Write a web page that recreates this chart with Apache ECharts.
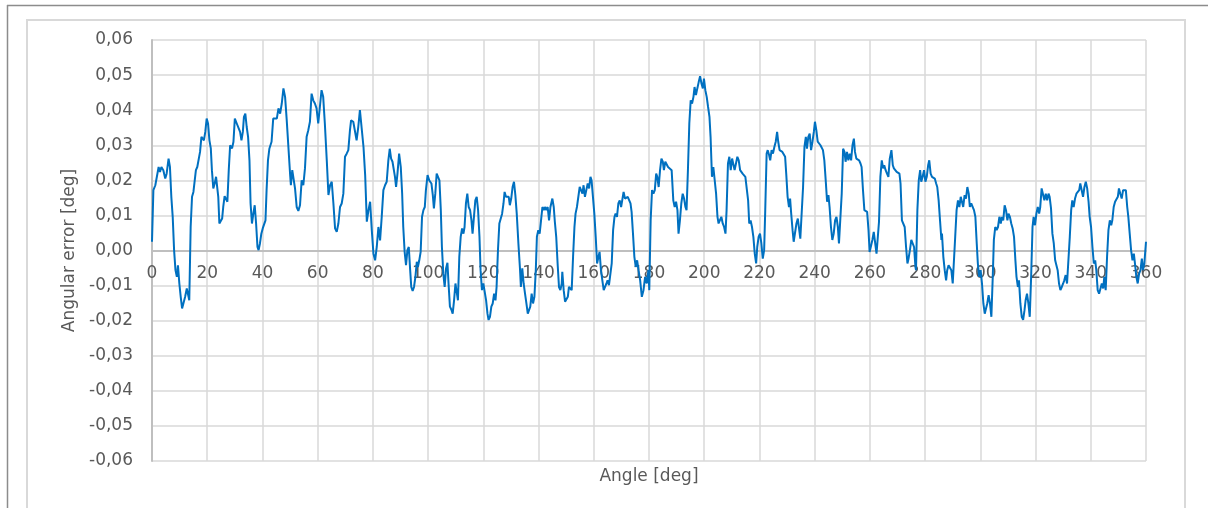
<!DOCTYPE html>
<html>
<head>
<meta charset="utf-8">
<script src="https://cdn.jsdelivr.net/npm/echarts@6/dist/echarts.min.js"></script>
<style>
  html, body { margin: 0; padding: 0; background: #ffffff; }
  #chart { width: 1208px; height: 508px; }
</style>
</head>
<body>
<div id="chart"></div>
<script>
// ---- Data (angle [deg], angular error [deg]) ----
const xTickLabels = ['0','20','40','60','80','100','120','140','160','180','200','220','240','260','280','300','320','340','360'];
const yTickValues = [-0.06,-0.05,-0.04,-0.03,-0.02,-0.01,0,0.01,0.02,0.03,0.04,0.05,0.06];

const pts000_045 = [[0,0.0025],[0.5,0.0172],[1.2,0.0186],[1.7,0.0191],[2.4,0.0238],[2.9,0.0224],[3.4,0.0238],[4.1,0.0229],[4.8,0.0205],[5.3,0.0219],[6.0,0.0262],[6.5,0.0238],[7.0,0.0153],[7.5,0.0096],[8.0,0.0001],[8.5,-0.0056],[9.0,-0.0075],[9.4,-0.0042],[9.9,-0.0094],[10.4,-0.0132],[10.9,-0.0165],[11.5,-0.0168],[12.0,-0.0132],[12.6,-0.0108],[13.0,-0.0105],[13.5,-0.0142],[14.0,0.0067],[14.5,0.0153],[15.0,0.0167],[15.5,0.0172],[15.9,0.0229],[16.4,0.0238],[16.9,0.0234],[17.4,0.0281],[17.9,0.0324],[18.4,0.0329],[18.8,0.0314],[19.3,0.0338],[19.8,0.0376],[20.3,0.0362],[20.8,0.0314],[21.3,0.0291],[21.7,0.0229],[22.2,0.0177],[22.7,0.0191],[23.2,0.0210],[23.7,0.0215],[24.0,0.0153],[24.4,0.0077],[24.9,0.0082],[25.4,0.0091],[25.8,0.0124],[26.3,0.0155],[26.8,0.0158],[27.3,0.0139],[27.8,0.0229],[28.3,0.0300],[29.0,0.0291],[29.5,0.0310],[30.0,0.0376],[30.7,0.0362],[31.4,0.0362],[31.9,0.0338],[32.4,0.0314],[32.9,0.0338],[33.3,0.0381],[33.8,0.0390],[34.3,0.0352],[34.8,0.0324],[35.3,0.0257],[35.7,0.0134],[36.2,0.0077],[36.7,0.0105],[37.2,0.0129],[37.7,0.0077],[38.2,0.0010],[38.6,0.0001],[39.1,0.0020],[39.6,0.0048],[40.1,0.0063],[40.6,0.0063],[41.1,0.0086],[41.5,0.0172],[42.0,0.0257],[42.5,0.0290],[43.3,0.0310],[43.9,0.0376],[44.5,0.0381],[45.2,0.0376]];

const pts045_090 = [[45.8,0.0405],[46.4,0.0390],[47.0,0.0419],[47.6,0.0462],[48.2,0.0438],[48.8,0.0371],[49.4,0.0295],[50.0,0.0219],[50.3,0.0186],[50.8,0.0229],[51.3,0.0234],[51.8,0.0177],[52.4,0.0124],[53.0,0.0113],[53.6,0.0129],[54.2,0.0200],[54.8,0.0186],[55.4,0.0234],[56.0,0.0324],[56.6,0.0343],[57.2,0.0367],[57.8,0.0447],[58.4,0.0428],[59.0,0.0419],[59.6,0.0405],[60.2,0.0362],[60.8,0.0409],[61.4,0.0457],[62.0,0.0438],[62.6,0.0362],[63.3,0.0257],[63.9,0.0158],[64.5,0.0186],[65.1,0.0196],[65.7,0.0134],[66.3,0.0063],[66.9,0.0053],[67.5,0.0077],[68.1,0.0124],[68.7,0.0134],[69.3,0.0162],[69.9,0.0267],[70.5,0.0276],[71.1,0.0286],[71.7,0.0343],[72.1,0.0371],[72.9,0.0367],[73.5,0.0362],[74.1,0.0314],[74.7,0.0352],[75.3,0.0400],[75.9,0.0395],[76.6,0.0295],[77.2,0.0215],[77.8,0.0082],[78.4,0.0115],[79.0,0.0139],[79.6,0.0058],[80.2,-0.0009],[80.8,-0.0028],[81.4,0.0010],[82.0,0.0067],[82.6,0.0029],[83.2,0.0096],[83.8,0.0172],[84.4,0.0186],[85.0,0.0196],[85.6,0.0257],[86.1,0.0290],[86.6,0.0262],[87.1,0.0253],[87.6,0.0229],[88.0,0.0210],[88.4,0.0181],[88.9,0.0219],[89.5,0.0276]];

const pts090_135 = [[90.1,0.0238],[90.6,0.0162],[91.0,0.0067],[91.5,-0.0004],[92.0,-0.0042],[92.5,0.0001],[93.0,0.0010],[93.5,-0.0056],[93.9,-0.0104],[94.4,-0.0115],[94.9,-0.0104],[95.4,-0.0075],[95.9,-0.0032],[96.3,-0.0047],[96.8,-0.0028],[97.3,-0.0004],[97.8,0.0096],[98.3,0.0115],[98.8,0.0124],[99.2,0.0172],[99.8,0.0215],[100.4,0.0200],[101.2,0.0191],[101.7,0.0158],[102.1,0.0120],[102.6,0.0162],[103.1,0.0219],[103.6,0.0224],[104.1,0.0200],[104.6,0.0115],[105.0,0.0010],[105.5,-0.0066],[106.0,-0.0104],[106.5,-0.0051],[107.0,-0.0035],[107.4,-0.0094],[107.9,-0.0160],[108.4,-0.0168],[108.9,-0.0180],[109.4,-0.0142],[109.9,-0.0094],[110.4,-0.0089],[110.8,-0.0142],[111.3,-0.0018],[111.8,0.0039],[112.3,0.0063],[112.8,0.0048],[113.2,0.0067],[113.7,0.0134],[114.2,0.0162],[114.7,0.0124],[115.2,0.0115],[115.7,0.0086],[116.1,0.0048],[116.6,0.0096],[117.1,0.0143],[117.6,0.0153],[118.1,0.0115],[118.6,0.0039],[119.0,-0.0056],[119.5,-0.0113],[120.0,-0.0094],[120.5,-0.0118],[121.0,-0.0142],[121.5,-0.0180],[121.9,-0.0198],[122.4,-0.0189],[122.9,-0.0160],[123.4,-0.0151],[123.9,-0.0123],[124.4,-0.0142],[124.8,-0.0104],[125.3,0.0001],[125.8,0.0077],[126.3,0.0082],[126.8,0.0105],[127.3,0.0134],[127.7,0.0167],[128.2,0.0153],[128.7,0.0155],[129.2,0.0153],[129.6,0.0129],[130.1,0.0148],[130.6,0.0181],[131.1,0.0196],[131.6,0.0158],[132.1,0.0105],[132.7,0.0020],[133.3,-0.0056],[133.6,-0.0104],[134.1,-0.0051],[134.6,-0.0094]];

const pts135_180 = [[135.1,-0.0123],[135.6,-0.0151],[136.1,-0.0180],[136.5,-0.0184],[137.0,-0.0160],[137.5,-0.0123],[138.0,-0.0151],[138.5,-0.0132],[139.0,-0.0056],[139.4,0.0039],[139.9,0.0058],[140.4,0.0048],[140.9,0.0086],[141.4,0.0124],[141.9,0.0115],[142.3,0.0124],[142.8,0.0115],[143.3,0.0124],[143.8,0.0086],[144.3,0.0124],[145.0,0.0148],[145.5,0.0124],[145.9,0.0082],[146.4,0.0039],[146.9,-0.0037],[147.4,-0.0104],[147.9,-0.0113],[148.4,-0.0094],[148.6,-0.0061],[149.1,-0.0113],[149.6,-0.0146],[150.1,-0.0142],[150.6,-0.0132],[151.0,-0.0104],[151.5,-0.0108],[152.0,-0.0113],[152.5,-0.0018],[153.0,0.0067],[153.4,0.0105],[153.9,0.0124],[154.4,0.0124],[154.9,0.0181],[155.4,0.0181],[155.9,0.0162],[156.3,0.0186],[156.8,0.0153],[157.3,0.0172],[157.8,0.0191],[158.3,0.0177],[158.8,0.0210],[159.2,0.0200],[159.7,0.0153],[160.2,0.0105],[160.7,0.0039],[161.2,-0.0037],[161.7,-0.0018],[162.1,-0.0004],[162.6,-0.0056],[163.1,-0.0085],[163.6,-0.0113],[164.1,-0.0108],[164.6,-0.0094],[165.0,-0.0085],[165.5,-0.0099],[166.0,-0.0094],[166.5,-0.0037],[167.0,0.0058],[167.5,0.0096],[167.9,0.0105],[168.4,0.0096],[168.9,0.0134],[169.4,0.0143],[169.9,0.0124],[170.4,0.0148],[170.8,0.0167],[171.3,0.0148],[171.8,0.0143],[172.3,0.0153],[172.8,0.0148],[173.3,0.0134],[173.7,0.0110],[174.2,0.0048],[174.7,-0.0018],[175.2,-0.0047],[175.7,-0.0028],[176.2,-0.0056],[176.8,-0.0085],[177.4,-0.0132],[178.0,-0.0113],[178.6,-0.0075],[179.2,-0.0094],[179.8,-0.0056]];

const pts180_225 = [[180.1,-0.0113],[180.6,0.0086],[181.1,0.0172],[181.6,0.0162],[182.1,0.0172],[182.6,0.0219],[183.0,0.0210],[183.5,0.0181],[184.0,0.0229],[184.5,0.0262],[185.0,0.0253],[185.4,0.0229],[185.9,0.0253],[186.4,0.0248],[186.9,0.0238],[187.6,0.0243],[188.2,0.0229],[188.8,0.0143],[189.3,0.0124],[189.8,0.0139],[190.3,0.0115],[190.7,0.0048],[191.2,0.0086],[191.7,0.0134],[192.2,0.0162],[192.7,0.0148],[193.2,0.0124],[193.6,0.0115],[194.1,0.0229],[194.6,0.0362],[195.1,0.0428],[195.6,0.0419],[196.1,0.0438],[196.5,0.0466],[197.0,0.0443],[197.5,0.0462],[198.0,0.0480],[198.5,0.0497],[199.0,0.0476],[199.5,0.0462],[199.9,0.0490],[200.4,0.0457],[200.9,0.0438],[201.4,0.0409],[201.9,0.0381],[202.3,0.0324],[202.8,0.0210],[203.3,0.0238],[203.8,0.0238],[204.3,0.0162],[204.8,0.0096],[205.2,0.0077],[205.7,0.0077],[206.2,0.0096],[206.7,0.0077],[207.2,0.0067],[207.7,0.0048],[208.1,0.0115],[208.6,0.0248],[209.1,0.0267],[209.6,0.0229],[210.1,0.0262],[210.6,0.0267],[211.0,0.0229],[211.5,0.0248],[212.0,0.0267],[212.5,0.0257],[213.0,0.0229],[213.5,0.0229],[213.9,0.0219],[214.4,0.0224],[214.9,0.0210],[215.4,0.0215],[215.9,0.0143],[216.3,0.0077],[216.8,0.0086],[217.3,0.0067],[217.8,0.0039],[218.3,-0.0009],[218.8,-0.0037],[219.2,0.0010],[219.7,0.0039],[220.2,0.0048],[220.7,0.0020],[221.2,-0.0023],[221.7,0.0001],[222.1,0.0115],[222.6,0.0276],[223.0,0.0286],[223.5,0.0272],[223.9,0.0257],[224.4,0.0286],[224.9,0.0276]];

const pts225_270 = [[225.4,0.0295],[225.9,0.0310],[226.4,0.0338],[226.8,0.0310],[227.3,0.0286],[227.8,0.0290],[228.3,0.0281],[228.8,0.0276],[229.3,0.0267],[229.7,0.0219],[230.2,0.0153],[230.7,0.0124],[231.1,0.0148],[231.5,0.0105],[232.0,0.0058],[232.4,0.0025],[232.9,0.0025],[233.4,0.0077],[233.9,0.0091],[234.3,0.0086],[234.8,0.0034],[235.3,0.0030],[235.8,0.0181],[236.3,0.0295],[236.8,0.0324],[237.2,0.0290],[237.7,0.0324],[238.2,0.0333],[238.7,0.0286],[239.2,0.0310],[239.7,0.0338],[240.1,0.0367],[240.6,0.0343],[241.1,0.0310],[241.6,0.0310],[242.1,0.0300],[242.5,0.0295],[243.0,0.0286],[243.5,0.0257],[244.0,0.0200],[244.5,0.0139],[245.0,0.0158],[245.4,0.0124],[245.9,0.0067],[246.4,0.0030],[246.9,0.0048],[247.4,0.0086],[247.9,0.0096],[248.4,0.0067],[248.8,0.0020],[249.3,0.0020],[249.8,0.0162],[250.3,0.0290],[250.8,0.0281],[251.2,0.0253],[251.7,0.0281],[252.2,0.0257],[252.7,0.0276],[253.2,0.0257],[253.7,0.0300],[254.2,0.0319],[254.6,0.0281],[255.1,0.0262],[255.6,0.0267],[256.1,0.0257],[256.6,0.0248],[257.0,0.0238],[257.5,0.0172],[258.0,0.0115],[258.5,0.0110],[259.0,0.0110],[259.5,0.0058],[259.9,-0.0004],[260.4,-0.0009],[260.9,0.0030],[261.4,0.0053],[261.9,0.0048],[262.4,-0.0009],[262.8,-0.0010],[263.3,0.0082],[263.8,0.0210],[264.3,0.0257],[264.8,0.0234],[265.2,0.0243],[265.7,0.0229],[266.2,0.0219],[266.7,0.0210],[267.2,0.0262],[267.8,0.0286],[268.3,0.0243],[268.7,0.0234],[269.2,0.0234],[269.7,0.0224]];

const pts270_315 = [[270.2,0.0224],[270.7,0.0219],[271.1,0.0191],[271.6,0.0086],[272.1,0.0082],[272.6,0.0067],[273.1,0.0010],[273.6,-0.0037],[274.0,-0.0023],[274.5,0.0001],[275.0,0.0030],[275.5,0.0034],[276.0,0.0010],[276.5,-0.0047],[276.7,-0.0056],[277.2,0.0115],[277.7,0.0200],[278.2,0.0229],[278.6,0.0196],[279.1,0.0210],[279.6,0.0229],[280.1,0.0196],[280.6,0.0210],[281.1,0.0243],[281.5,0.0257],[282.0,0.0219],[282.5,0.0210],[283.0,0.0210],[283.5,0.0205],[284.0,0.0191],[284.4,0.0181],[284.9,0.0143],[285.4,0.0086],[285.9,0.0030],[286.1,0.0048],[286.6,-0.0018],[287.1,-0.0056],[287.6,-0.0085],[288.0,-0.0056],[288.5,-0.0042],[289.0,-0.0037],[289.5,-0.0056],[290.0,-0.0094],[290.5,-0.0099],[290.9,0.0039],[291.4,0.0115],[291.9,0.0143],[292.4,0.0124],[292.9,0.0153],[293.4,0.0153],[293.8,0.0124],[294.3,0.0158],[294.8,0.0148],[295.3,0.0181],[295.8,0.0162],[296.2,0.0124],[296.7,0.0134],[297.2,0.0129],[297.7,0.0115],[298.2,0.0096],[298.7,0.0020],[299.1,-0.0037],[299.6,-0.0075],[300.1,-0.0056],[300.6,-0.0094],[301.1,-0.0151],[301.6,-0.0180],[302.1,-0.0184],[302.5,-0.0151],[303.0,-0.0127],[303.5,-0.0151],[304.0,-0.0189],[304.5,-0.0075],[304.9,0.0030],[305.4,0.0067],[305.9,0.0058],[306.4,0.0067],[306.9,0.0096],[307.4,0.0077],[307.8,0.0096],[308.3,0.0086],[308.8,0.0129],[309.3,0.0115],[309.8,0.0086],[310.2,0.0105],[310.7,0.0096],[311.2,0.0077],[311.7,0.0063],[312.2,0.0039],[312.7,-0.0028],[313.1,-0.0075],[313.6,-0.0104],[314.0,-0.0085],[314.5,-0.0151]];

const pts315_360 = [[315.0,-0.0189],[315.5,-0.0198],[316.0,-0.0170],[316.4,-0.0142],[316.9,-0.0123],[317.4,-0.0151],[317.9,-0.0189],[318.4,-0.0075],[318.9,0.0067],[319.3,0.0096],[319.8,0.0072],[320.3,0.0105],[320.8,0.0124],[321.3,0.0105],[321.7,0.0124],[322.2,0.0177],[322.7,0.0177],[323.2,0.0143],[323.7,0.0162],[324.2,0.0143],[324.7,0.0162],[325.1,0.0153],[325.6,0.0120],[326.1,0.0048],[326.6,0.0020],[327.1,-0.0028],[327.6,-0.0023],[328.0,-0.0056],[328.5,-0.0094],[329.0,-0.0113],[329.5,-0.0104],[330.0,-0.0094],[330.4,-0.0085],[330.9,-0.0070],[331.4,-0.0094],[331.9,-0.0094],[332.4,0.0039],[332.9,0.0115],[333.3,0.0143],[333.8,0.0124],[334.3,0.0148],[334.8,0.0162],[335.3,0.0158],[335.8,0.0172],[336.2,0.0191],[336.7,0.0186],[337.2,0.0153],[337.7,0.0181],[338.2,0.0196],[338.7,0.0177],[339.2,0.0139],[339.6,0.0096],[340.1,0.0067],[340.6,0.0010],[341.1,-0.0037],[341.6,-0.0028],[342.0,-0.0056],[342.5,-0.0113],[343.0,-0.0123],[343.5,-0.0123],[344.0,-0.0094],[344.5,-0.0108],[344.9,-0.0075],[345.4,-0.0113],[345.9,-0.0018],[346.4,0.0058],[346.9,0.0086],[347.4,0.0072],[347.8,0.0086],[348.3,0.0124],[348.8,0.0139],[349.3,0.0134],[349.8,0.0153],[350.2,0.0177],[350.7,0.0162],[351.2,0.0148],[351.7,0.0172],[352.2,0.0177],[352.7,0.0172],[353.2,0.0124],[353.6,0.0096],[354.1,0.0048],[354.6,0.0001],[355.1,-0.0028],[355.6,-0.0009],[356.0,-0.0037],[356.5,-0.0075],[357.0,-0.0094],[357.5,-0.0066],[358.0,-0.0056],[358.5,-0.0023],[358.9,-0.0056],[359.4,-0.0037],[360.0,0.0025]];

const seriesName = 'Angular error';
const xAxisTitle = 'Angle [deg]';
const yAxisTitle = 'Angular error [deg]';

const lineData = [].concat(pts000_045, pts045_090, pts090_135, pts135_180,
                           pts180_225, pts225_270, pts270_315, pts315_360);

// ---- Chart ----
const FONT = 'DejaVu Sans';
const FS = 17;
const TXT = '#595959';
const chart = echarts.init(document.getElementById('chart'), null, { renderer: 'canvas' });

const GL = 152, GR = 1146, GT = 40, GB = 461;
const yMin = yTickValues[0], yMax = yTickValues[yTickValues.length - 1];
// the x axis crosses at error = 0: shift it up from the grid bottom by the scale's own ratio
const zeroShift = (GB - GT) * (0 - yMin) / (yMax - yMin);

chart.setOption({
  backgroundColor: '#ffffff',
  animation: false,
  textStyle: { fontFamily: FONT },
  grid: { left: GL, top: GT, width: GR - GL, height: GB - GT, containLabel: false },
  xAxis: {
    type: 'value',
    position: 'bottom',
    offset: -zeroShift,
    min: 0, max: 360, interval: 20,
    axisLine: { show: true, onZero: false, lineStyle: { color: '#bfbfbf', width: 2 } },
    axisTick: { show: false },
    axisLabel: {
      color: TXT, fontSize: FS, fontFamily: FONT, margin: 15,
      formatter: (v) => xTickLabels[Math.round(v / 20)] ?? String(v)
    },
    splitLine: { show: true, lineStyle: { color: '#d9d9d9', width: 1.5 } }
  },
  yAxis: {
    type: 'value',
    min: yMin, max: yMax, interval: 0.01,
    name: yAxisTitle,
    nameLocation: 'middle',
    nameGap: 74,
    nameRotate: 90,
    nameTextStyle: { color: TXT, fontSize: FS, fontFamily: FONT },
    axisLine: { show: true, onZero: false, lineStyle: { color: '#bfbfbf', width: 2 } },
    axisTick: { show: false },
    axisLabel: {
      color: TXT, fontSize: FS, fontFamily: FONT, margin: 19,
      formatter: (v) => v.toFixed(2).replace('.', ',')
    },
    splitLine: { show: true, lineStyle: { color: '#d9d9d9', width: 1.5 } }
  },
  graphic: [
    { type: 'line', silent: true, shape: { x1: 7, y1: 5.5, x2: 1208, y2: 5.5 },
      style: { stroke: '#8c8c8c', lineWidth: 1.5 } },
    { type: 'line', silent: true, shape: { x1: 7.5, y1: 5, x2: 7.5, y2: 508 },
      style: { stroke: '#8c8c8c', lineWidth: 1.5 } },
    { type: 'rect', silent: true, shape: { x: 27, y: 20, width: 1158, height: 520 },
      style: { fill: 'none', stroke: '#d9d9d9', lineWidth: 2 } },
    { type: 'text', silent: true, x: (GL + GR) / 2, y: 477,
      style: { text: xAxisTitle, fill: TXT, font: FS + 'px "' + FONT + '"', textAlign: 'center', textVerticalAlign: 'middle' } }
  ],
  series: [{
    name: seriesName,
    type: 'line',
    data: lineData,
    showSymbol: false,
    symbol: 'none',
    smooth: false,
    lineStyle: { color: '#0070c0', width: 2 },
    z: 3
  }]
});
</script>
</body>
</html>
